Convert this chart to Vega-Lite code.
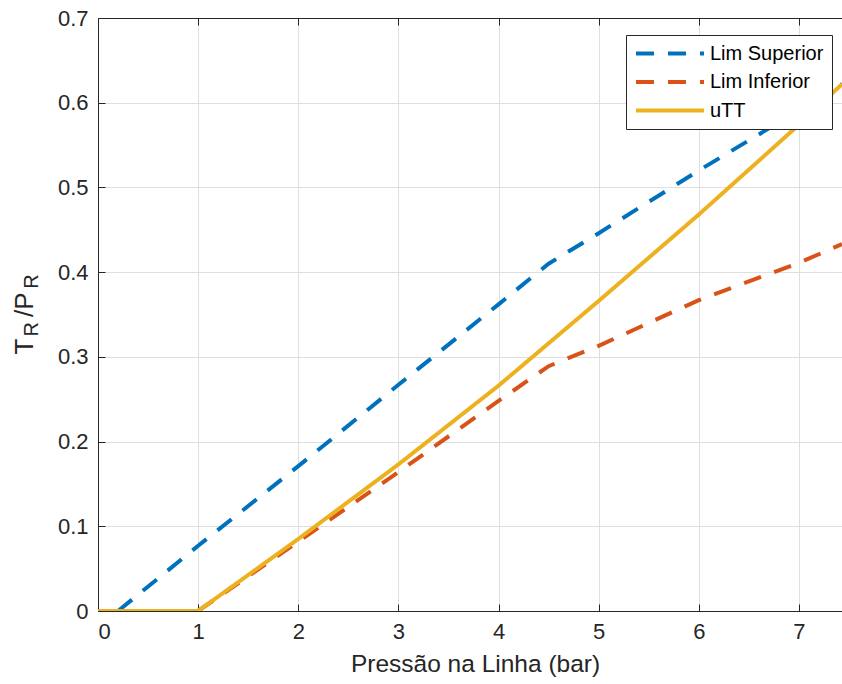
{
  "$schema": "https://vega.github.io/schema/vega-lite/v6.json",
  "width": 744,
  "height": 593,
  "autosize": {"type": "none"},
  "padding": {"left": 98, "top": 18, "right": 0, "bottom": 73},
  "background": "white",
  "config": {
    "font": "Liberation Sans",
    "view": {"stroke": null}
  },
  "data": {
    "values": [
      {"serie": "Lim Superior", "pressao": 0.2, "razao": 0.0},
      {"serie": "Lim Superior", "pressao": 1.0, "razao": 0.077},
      {"serie": "Lim Superior", "pressao": 2.0, "razao": 0.171},
      {"serie": "Lim Superior", "pressao": 3.0, "razao": 0.267},
      {"serie": "Lim Superior", "pressao": 4.0, "razao": 0.362},
      {"serie": "Lim Superior", "pressao": 4.5, "razao": 0.41},
      {"serie": "Lim Superior", "pressao": 5.0, "razao": 0.446},
      {"serie": "Lim Superior", "pressao": 6.0, "razao": 0.52},
      {"serie": "Lim Superior", "pressao": 7.0, "razao": 0.591},
      {"serie": "Lim Superior", "pressao": 7.43, "razao": 0.622},
      {"serie": "Lim Inferior", "pressao": 1.0, "razao": 0.0},
      {"serie": "Lim Inferior", "pressao": 2.0, "razao": 0.082},
      {"serie": "Lim Inferior", "pressao": 3.0, "razao": 0.164},
      {"serie": "Lim Inferior", "pressao": 4.0, "razao": 0.248},
      {"serie": "Lim Inferior", "pressao": 4.5, "razao": 0.289},
      {"serie": "Lim Inferior", "pressao": 5.0, "razao": 0.313},
      {"serie": "Lim Inferior", "pressao": 6.0, "razao": 0.367},
      {"serie": "Lim Inferior", "pressao": 7.0, "razao": 0.411},
      {"serie": "Lim Inferior", "pressao": 7.43, "razao": 0.433},
      {"serie": "uTT", "pressao": 0.0, "razao": 0.0},
      {"serie": "uTT", "pressao": 1.0, "razao": 0.0},
      {"serie": "uTT", "pressao": 2.0, "razao": 0.085},
      {"serie": "uTT", "pressao": 3.0, "razao": 0.173},
      {"serie": "uTT", "pressao": 4.0, "razao": 0.266},
      {"serie": "uTT", "pressao": 5.0, "razao": 0.366},
      {"serie": "uTT", "pressao": 6.0, "razao": 0.468},
      {"serie": "uTT", "pressao": 7.0, "razao": 0.574},
      {"serie": "uTT", "pressao": 7.43, "razao": 0.622}
    ]
  },
  "layer": [
    {
      "transform": [{"filter": "datum.serie !== 'uTT'"}],
      "mark": {"type": "line", "strokeWidth": 4, "clip": true},
      "encoding": {
        "x": {
          "field": "pressao",
          "type": "quantitative",
          "scale": {"domain": [0, 7.43], "nice": false, "zero": false},
          "axis": {
            "orient": "bottom",
            "values": [0, 1, 2, 3, 4, 5, 6, 7],
            "format": "~g",
            "domainColor": "#262626",
            "domainWidth": 1,
            "tickColor": "#262626",
            "tickSize": -7,
            "tickWidth": 1,
            "labelFontSize": 22,
            "labelColor": "#262626",
            "labelPadding": 17,
            "grid": true,
            "gridColor": "#dfdfdf",
            "gridWidth": 1,
            "title": "Pressão na Linha (bar)",
            "titleFontSize": 24.5,
            "titleFontWeight": "normal",
            "titleColor": "#262626",
            "titleX": 377,
            "titleY": 60,
            "titleBaseline": "alphabetic",
            "titleAlign": "center"
          }
        },
        "y": {
          "field": "razao",
          "type": "quantitative",
          "scale": {"domain": [0, 0.7], "nice": false, "zero": false},
          "axis": {
            "orient": "left",
            "values": [0, 0.1, 0.2, 0.3, 0.4, 0.5, 0.6, 0.7],
            "format": "~g",
            "domainColor": "#262626",
            "domainWidth": 1,
            "tickColor": "#262626",
            "tickSize": -7,
            "tickWidth": 1,
            "labelFontSize": 22,
            "labelColor": "#262626",
            "labelPadding": 17,
            "grid": true,
            "gridColor": "#dfdfdf",
            "gridWidth": 1,
            "title": "T\u00a0\u00a0\u00a0/P",
            "titleFontSize": 26,
            "titleFontWeight": "normal",
            "titleColor": "#262626",
            "titleAngle": -90,
            "titleAlign": "left",
            "titleBaseline": "alphabetic",
            "titleX": -66,
            "titleY": 336
          }
        },
        "color": {
          "field": "serie",
          "type": "nominal",
          "scale": {
            "domain": ["Lim Superior", "Lim Inferior", "uTT"],
            "range": ["#0072BD", "#D95319", "#EDB120"]
          },
          "legend": {
            "title": null,
            "orient": "none",
            "legendX": 528,
            "legendY": 17,
            "padding": 8,
            "rowPadding": 7.5,
            "strokeColor": "#262626",
            "fillColor": "white",
            "cornerRadius": 0,
            "symbolType": "M-1,0H7",
            "symbolSize": 289,
            "symbolStrokeWidth": 4,
            "labelOffset": 55,
            "labelFontSize": 20,
            "labelColor": "#000000",
            "labelLimit": 0
          }
        },
        "strokeDash": {
          "field": "serie",
          "type": "nominal",
          "scale": {
            "domain": ["Lim Superior", "Lim Inferior", "uTT"],
            "range": [[18, 14], [18, 14], [1, 0]]
          },
          "legend": {
            "title": null,
            "orient": "none",
            "legendX": 528,
            "legendY": 17,
            "padding": 8,
            "rowPadding": 7.5,
            "strokeColor": "#262626",
            "fillColor": "white",
            "cornerRadius": 0,
            "symbolType": "M-1,0H7",
            "symbolSize": 289,
            "symbolStrokeWidth": 4,
            "labelOffset": 55,
            "labelFontSize": 20,
            "labelColor": "#000000",
            "labelLimit": 0
          }
        }
      }
    },
    {
      "transform": [{"filter": "datum.serie === 'uTT'"}],
      "mark": {"type": "line", "strokeWidth": 4, "clip": true},
      "encoding": {
        "x": {
          "field": "pressao",
          "type": "quantitative",
          "scale": {"domain": [0, 7.43], "nice": false, "zero": false},
          "axis": {
            "orient": "top",
            "values": [0, 1, 2, 3, 4, 5, 6, 7],
            "labels": false,
            "grid": false,
            "domainColor": "#262626",
            "domainWidth": 1,
            "tickColor": "#262626",
            "tickSize": -7,
            "tickWidth": 1,
            "title": null
          }
        },
        "y": {
          "field": "razao",
          "type": "quantitative",
          "scale": {"domain": [0, 0.7], "nice": false, "zero": false},
          "axis": {
            "orient": "right",
            "labels": false,
            "ticks": false,
            "domain": false,
            "grid": false,
            "title": "R\u00a0\u00a0\u00a0\u00a0\u00a0\u00a0R",
            "titleFontSize": 20,
            "titleFontWeight": "normal",
            "titleColor": "#262626",
            "titleAngle": -90,
            "titleAlign": "left",
            "titleBaseline": "alphabetic",
            "titleX": -805,
            "titleY": 318
          }
        },
        "color": {
          "field": "serie",
          "type": "nominal",
          "scale": {
            "domain": ["Lim Superior", "Lim Inferior", "uTT"],
            "range": ["#0072BD", "#D95319", "#EDB120"]
          }
        },
        "strokeDash": {
          "field": "serie",
          "type": "nominal",
          "scale": {
            "domain": ["Lim Superior", "Lim Inferior", "uTT"],
            "range": [[18, 14], [18, 14], [1, 0]]
          }
        }
      }
    }
  ],
  "resolve": {"axis": {"x": "independent", "y": "independent"}}
}
